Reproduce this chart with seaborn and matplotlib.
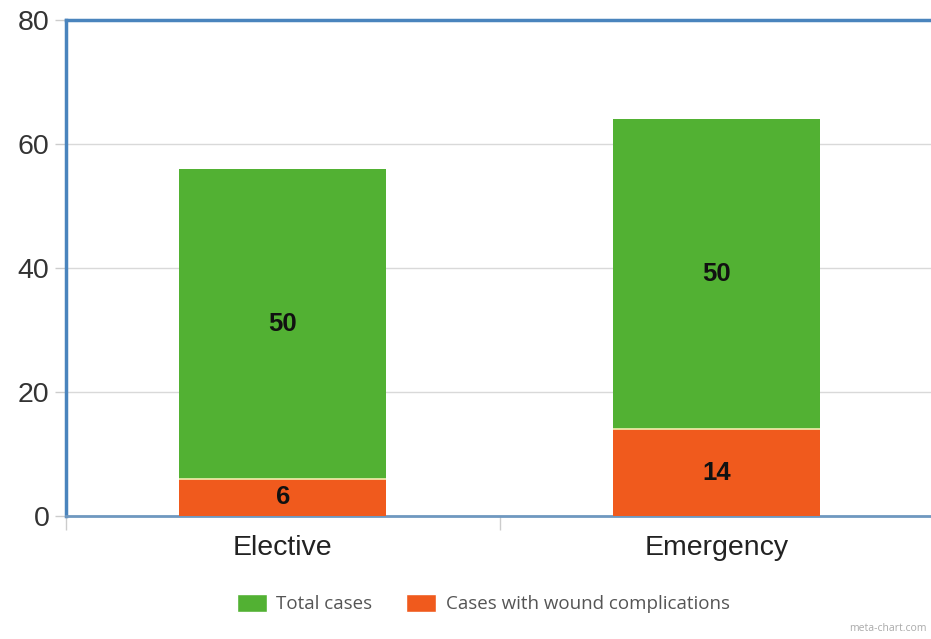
import matplotlib
matplotlib.use("Agg")
import matplotlib.pyplot as plt
import seaborn as sns
import pandas as pd
from matplotlib.patches import Patch

# Data
categories = ["Elective", "Emergency"]
complications = [6, 14]          # cases with wound complications (bottom segment)
total_cases = [50, 50]           # total cases (upper segment)
y_ticks = [0, 20, 40, 60, 80]

GREEN = "#52b133"
ORANGE = "#f05a1d"
FRAME = "#4a84bd"

sns.set_theme(style="white")
plt.rcParams["font.family"] = ["Liberation Sans", "DejaVu Sans"]

df = pd.DataFrame({
    "category": categories,
    "complications": complications,
    "total": total_cases,
})
df["stack_top"] = df["complications"] + df["total"]

fig = plt.figure(figsize=(9.31, 6.39), dpi=100)
ax = fig.add_axes([0.0709, 0.1925, 0.932, 0.776])

# Stacked bars: full stack height in green, lower segment in orange on top of it
sns.barplot(data=df, x="category", y="stack_top", color=GREEN, width=0.477,
            edgecolor="none", saturation=1, ax=ax, zorder=2)
sns.barplot(data=df, x="category", y="complications", color=ORANGE, width=0.477,
            edgecolor="none", saturation=1, ax=ax, zorder=3)

# thin light separator between the segments
for i, v in enumerate(df["complications"]):
    ax.hlines(v, i - 0.2385, i + 0.2385, color="#f2efb0", lw=1.2, zorder=4)

# segment value labels
for i, row in df.iterrows():
    ax.text(i, row["complications"] / 2, f"{row['complications']}", ha="center",
            va="center", fontsize=18.5, fontweight="bold", color="#111111", zorder=5)
    ax.text(i, row["complications"] + row["total"] / 2, f"{row['total']}",
            ha="center", va="center", fontsize=18.5, fontweight="bold",
            color="#111111", zorder=5)

ax.set_xlim(-0.5, 1.5)
ax.set_ylim(0, 80)
ax.set_yticks(y_ticks)
ax.set_yticklabels([str(t) for t in y_ticks], fontsize=20.5, color="#333333")
ax.set_xticks(range(len(categories)))
ax.set_xticklabels(categories, fontsize=20.5, color="#222222")
ax.set_xlabel("")
ax.set_ylabel("")

# boundary ticks between categories
ax.set_xticks([-0.5, 0.5, 1.5], minor=True)
ax.tick_params(axis="x", which="major", length=0, pad=14, bottom=True)
ax.tick_params(axis="x", which="minor", length=10, width=1, color="#cccccc",
               direction="out", bottom=True)
ax.tick_params(axis="y", which="major", length=8, width=1, color="#cccccc",
               direction="out", pad=4, left=True)

ax.grid(axis="y", color="#d9d9d9", lw=1, zorder=0)
ax.set_axisbelow(True)

for side in ["left", "top"]:
    ax.spines[side].set_color(FRAME)
    ax.spines[side].set_linewidth(2.5)
ax.spines["bottom"].set_color("#6f98c0")
ax.spines["bottom"].set_linewidth(2)
ax.spines["right"].set_visible(False)

handles = [Patch(facecolor=GREEN, label="Total cases"),
           Patch(facecolor=ORANGE, label="Cases with wound complications")]
fig.legend(handles=handles, loc="center", bbox_to_anchor=(0.519, 0.056),
           ncol=2, frameon=False, handlelength=1.6,
           handleheight=1.1, handletextpad=0.5, columnspacing=1.8,
           labelcolor="#555555", prop={"family": ["Open Sans", "DejaVu Sans"],
                                        "size": 13.5})

fig.text(0.995, 0.008, "meta-chart.com", ha="right", va="bottom", fontsize=7.5,
         color="#aaaaaa", family=["Open Sans", "DejaVu Sans"])

fig.savefig("out.png", dpi=100)
